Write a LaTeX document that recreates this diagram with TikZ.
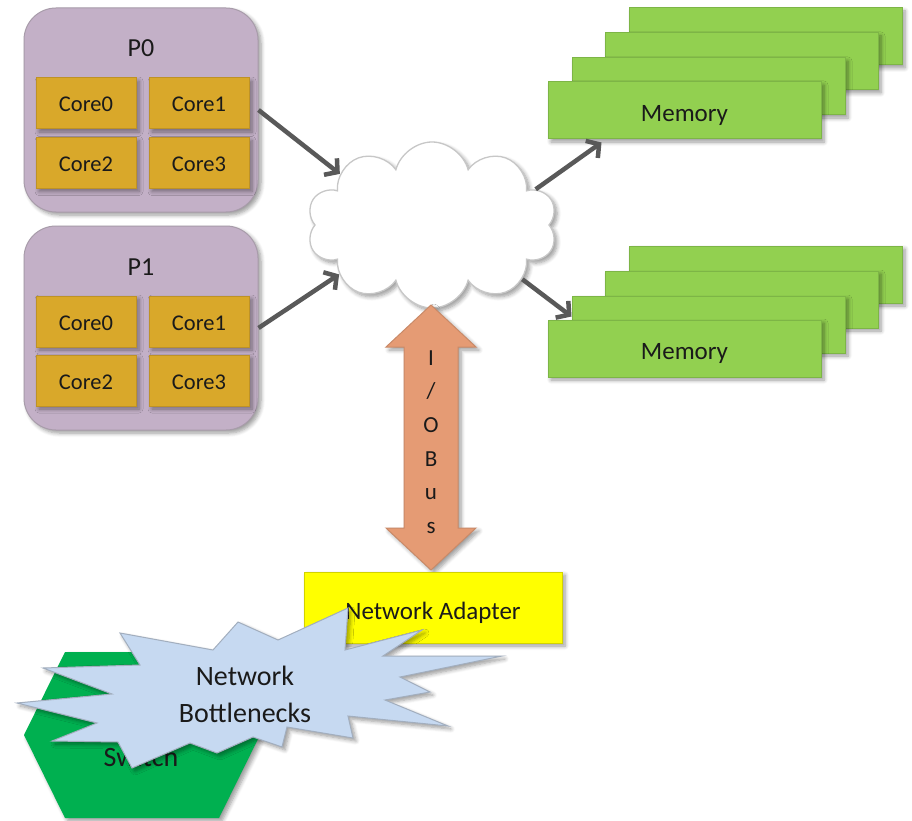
\documentclass[tikz,border=0pt]{standalone}
\usepackage{fontspec}
\setmainfont{Carlito}
\usetikzlibrary{shapes.symbols,shadows.blur,arrows.meta,calc}

\definecolor{pfill}{HTML}{C3B0C7}
\definecolor{pborder}{HTML}{A89CAA}
\definecolor{corefill}{HTML}{D9A82A}
\definecolor{coreborder}{HTML}{BE9226}
\definecolor{memfill}{HTML}{92D050}
\definecolor{memborder}{HTML}{7DB546}
\definecolor{arrowgray}{HTML}{595959}
\definecolor{busfill}{HTML}{E59B74}
\definecolor{busborder}{HTML}{C98A68}
\definecolor{adaptfill}{HTML}{FFFF00}
\definecolor{adaptborder}{HTML}{D2D200}
\definecolor{switchfill}{HTML}{00B050}
\definecolor{burstfill}{HTML}{C6D9F1}
\definecolor{burstborder}{HTML}{A2AEBE}
\definecolor{txt}{HTML}{1A1A1A}

\tikzset{
  softshadow/.style={blur shadow={shadow xshift=3pt, shadow yshift=-3pt,
      shadow blur radius=4pt, shadow blur steps=6, shadow opacity=40}},
  pbox/.style={draw=pborder, fill=pfill, line width=1pt, rounded corners=32pt,
      minimum width=234pt, minimum height=204pt, softshadow},
  plabel/.style={text=txt, font=\fontsize{26}{30}\selectfont},
  corebox/.style={draw=coreborder, fill=corefill, line width=1pt,
      minimum width=100pt, minimum height=51pt, text=txt,
      text height=17pt, text depth=0pt,
      font=\fontsize{22.5}{27}\selectfont, softshadow},
  membox/.style={draw=memborder, fill=memfill, line width=1pt,
      minimum width=273pt, minimum height=57pt, text=txt,
      text height=22pt, text depth=0pt,
      font=\fontsize{25}{30}\selectfont, softshadow},
  link/.style={draw=arrowgray, line width=4.5pt,
      -{Straight Barb[length=9pt,width=21pt]}},
  bigtext/.style={text=txt, font=\fontsize{28}{37}\selectfont, align=center},
}

\begin{document}
\begin{tikzpicture}[x=1pt,y=-1pt]
\useasboundingbox (0,0) rectangle (912,821);

% ---- processor P0 ----
\node[pbox] (P0) at (141,110) {};
\node[plabel] (P0lab) at (141,48) {P0};
\node[corebox] (P0c0) at (86,103.5) {Core0};
\node[corebox] (P0c1) at (199,103.5) {Core1};
\node[corebox] (P0c2) at (86,163) {Core2};
\node[corebox] (P0c3) at (199,163) {Core3};

% ---- processor P1 ----
\node[pbox] (P1) at (141,328) {};
\node[plabel] (P1lab) at (141,267) {P1};
\node[corebox] (P1c0) at (86,321.5) {Core0};
\node[corebox] (P1c1) at (199,321.5) {Core1};
\node[corebox] (P1c2) at (86,380.5) {Core2};
\node[corebox] (P1c3) at (199,380.5) {Core3};

% ---- memory banks (back to front) ----
\node[membox] (memA3) at (765.5,36.5) {};
\node[membox] (memA2) at (741.5,61.5) {};
\node[membox] (memA1) at (708.5,86.5) {};
\node[membox] (memA)  at (684.5,110.5) {Memory};

\node[membox] (memB3) at (765.5,274.5) {};
\node[membox] (memB2) at (741.5,299.5) {};
\node[membox] (memB1) at (708.5,324.5) {};
\node[membox] (memB)  at (684.5,348.5) {Memory};

% ---- interconnect cloud ----
\node[cloud, cloud puffs=10, cloud puff arc=150, aspect=1.5,
      minimum width=250pt, minimum height=166pt, inner sep=0pt,
      draw=black!22, line width=1.3pt, fill=white, softshadow]
      (cloud) at (432,225) {};

% ---- connectors ----
\draw[link] (P0.east) -- (cloud.151);
\draw[link] (P1.east) -- (cloud.208);
\draw[link] (cloud.19) -- ($(memA.south west)+(54,3)$);
\draw[link] (cloud.-31) -- ($(memB.north west)+(24,-3)$);

% ---- I/O bus (double-headed block arrow) ----
\path[draw=busborder, fill=busfill, line width=1pt, line join=miter, softshadow]
  (431,305) -- (476,347) -- (458,347) -- (458,528) -- (476,528) -- (431,570)
  -- (386,528) -- (404,528) -- (404,347) -- (386,347) -- cycle;
\node[text=txt, font=\fontsize{23}{33.6}\selectfont, align=center]
      (bus) at (431,442) {I\\/\\O\\B\\u\\s};

% ---- switch ----
\path[fill=switchfill, softshadow]
  (65,652) -- (219,652) -- (260,735) -- (219,818) -- (65,818) -- (24,735) -- cycle;
\node[bigtext] (switch) at (141,757) {Switch};

% ---- network adapter ----
\node[draw=adaptborder, fill=adaptfill, line width=1pt, minimum width=258pt,
      minimum height=71pt, text=txt, text height=23pt, text depth=0pt,
      font=\fontsize{25}{30}\selectfont,
      softshadow] (adapter) at (433,607.5) {Network Adapter};

% ---- bottleneck burst ----
\path[draw=burstborder, fill=burstfill, line width=1pt, line join=miter, softshadow]
  (120,633) -- (140,665) -- (43,668) -- (112,694) -- (17,703) -- (97,723)
  -- (52,741) -- (118,742) -- (132,768) -- (190,743) -- (217,753) -- (253,737)
  -- (282,747) -- (287,727) -- (353,738) -- (348,716) -- (448,726) -- (385,700)
  -- (430,692) -- (400,677) -- (502,656) -- (383,656) -- (422,630) -- (345,650)
  -- (348,608) -- (278,640) -- (238,622) -- (213,650) -- cycle;
\node[bigtext] (burst) at (245,694) {Network\\Bottlenecks};

\end{tikzpicture}
\end{document}
